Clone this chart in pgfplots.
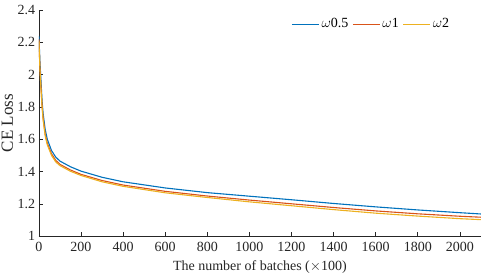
\documentclass[border=0pt]{standalone}
\usepackage{fontspec}
\setmainfont{Liberation Serif}
\usepackage{pgfplots}
\pgfplotsset{compat=1.18}
\definecolor{mblue}{rgb}{0,0.447,0.741}
\definecolor{mred}{rgb}{0.85,0.325,0.098}
\definecolor{myel}{rgb}{0.929,0.694,0.125}
\definecolor{axgray}{rgb}{0.15,0.15,0.15}
\begin{document}
\fontsize{14}{16}\selectfont
\begin{tikzpicture}
\useasboundingbox (-38.9pt,-38.7pt) rectangle (445.1pt,236.3pt);
\begin{axis}[
  at={(0,0)}, anchor=origin,
  scale only axis, width=442pt, height=226.4pt,
  xmin=0, xmax=2100, ymin=1, ymax=2.4,
  axis x line*=bottom, axis y line*=left,
  axis line style={axgray, line width=0.6pt},
  tick style={axgray, line width=0.6pt},
  tick align=inside,
  major tick length=4.5pt,
  xtick={0,200,...,2000},
  ytick={1,1.2,...,2.4},
  yticklabels={1,1.2,1.4,1.6,1.8,2,2.2,2.4},
  ticklabel style={font=\fontsize{14}{16}\selectfont, text=axgray},
  /pgf/number format/assume math mode=true,
  xticklabel style={/pgf/number format/1000 sep={}, yshift=-1.5pt},
  yticklabel style={xshift=1pt},
  xlabel={The number of batches ($\times$100)},
  ylabel={CE Loss},
  label style={font=\fontsize{14}{16}\selectfont, text=axgray},
  xlabel style={yshift=1pt},
  ylabel style={font=\fontsize{17}{19}\selectfont, yshift=-5pt},
  legend columns=3,
  legend style={draw=none, fill=none, at={(rel axis cs:0.94,0.98)}, anchor=north east,
    font=\fontsize{14}{16}\selectfont, /tikz/every even column/.append style={column sep=2pt}},
  legend image code/.code={\draw[#1, line width=1.1pt] (0cm,0cm) -- (0.95cm,0cm);},
  every axis plot/.append style={line width=1.1pt},
]
\addplot[mblue] coordinates {(0,2.24)(5,2.08)(10,1.96)(15,1.84)(20,1.76)(30,1.66)(40,1.60)(60,1.53)(80,1.49)(100,1.465)(150,1.43)(200,1.403)(300,1.365)(400,1.337)(600,1.299)(800,1.27)(1000,1.248)(1200,1.226)(1400,1.203)(1600,1.182)(1800,1.163)(2000,1.146)(2100,1.138)};
\addlegendentry{$\omega$0.5}
\addplot[mred] coordinates {(0,2.22)(5,2.04)(10,1.92)(15,1.81)(20,1.73)(30,1.63)(40,1.575)(60,1.51)(80,1.47)(100,1.445)(150,1.41)(200,1.383)(300,1.345)(400,1.317)(600,1.278)(800,1.249)(1000,1.224)(1200,1.201)(1400,1.178)(1600,1.157)(1800,1.139)(2000,1.124)(2100,1.118)};
\addlegendentry{$\omega$1}
\addplot[myel] coordinates {(0,2.21)(5,2.03)(10,1.91)(15,1.80)(20,1.72)(30,1.62)(40,1.565)(60,1.50)(80,1.46)(100,1.437)(150,1.402)(200,1.376)(300,1.337)(400,1.309)(600,1.269)(800,1.24)(1000,1.213)(1200,1.189)(1400,1.165)(1600,1.143)(1800,1.125)(2000,1.109)(2100,1.103)};
\addlegendentry{$\omega$2}
\end{axis}
\end{tikzpicture}
\end{document}
